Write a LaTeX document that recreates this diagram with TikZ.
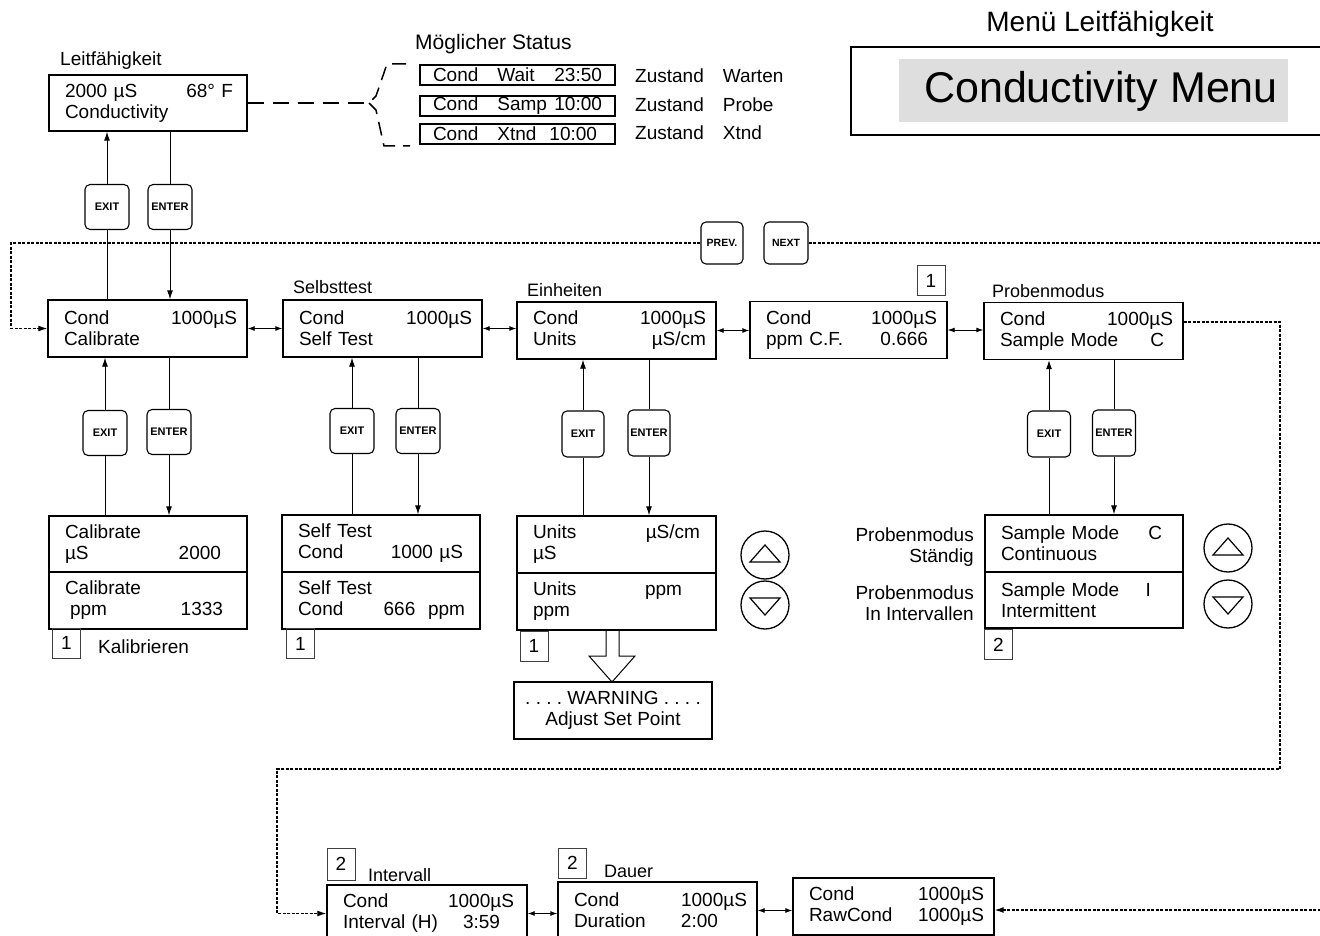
\documentclass[tikz,border=0pt]{standalone}
\usepackage{fontspec}
\setmainfont{Liberation Sans}
\usetikzlibrary{arrows.meta}
\definecolor{menugray}{HTML}{DEDEDE}
\newcommand\lp{\hspace*{6pt}}
\begin{document}
\begin{tikzpicture}[x=1pt,y=-1pt,
  every node/.style={inner sep=0pt, font=\fontsize{19}{21}\selectfont},
  lcd/.style={draw, line width=1.4pt, inner xsep=10pt, inner ysep=0pt, text width=#1, minimum height=57pt},
  stbox/.style={draw, line width=1.2pt, inner xsep=13pt, inner ysep=0pt, text width=169pt, minimum height=20pt},
  btn/.style={draw, line width=1.1pt, rounded corners=5pt, minimum width=44pt, minimum height=45pt, font=\fontsize{11}{13}\selectfont\bfseries},
  numbox/.style={draw=black!75, line width=0.8pt, minimum width=28pt, minimum height=30pt},
  lbl/.style={anchor=base west, font=\fontsize{18}{21}\selectfont},
  updown/.style={circle, draw, line width=1.3pt, minimum size=48pt},
  conn/.style={line width=0.9pt},
  arr/.style={conn, -{Latex[length=9pt,width=6pt]}},
  darr/.style={conn, {Latex[length=7pt,width=5pt]}-{Latex[length=7pt,width=5pt]}},
  dots/.style={line width=1.1pt, dash pattern=on 3pt off 1.5pt},
  dotsarr/.style={dots, -{Latex[length=9pt,width=6pt]}},
  dsh/.style={line width=1.5pt, dash pattern=on 16pt off 9pt}
]
\useasboundingbox (0,0) rectangle (1320,936);
\clip (0,0) rectangle (1320,936);

% ---------- title ----------
\node[anchor=base, font=\fontsize{28}{31}\selectfont] (ttl) at (1100,32) {Menü Leitfähigkeit};
\draw[line width=1.5pt] (851,47) rectangle (1330,135);
\fill[menugray] (899,59) rectangle (1288,122);
\node[font=\fontsize{43}{48}\selectfont] (menu) at (1101,91) {Conductivity Menu};

% ---------- top display ----------
\node[lbl, font=\fontsize{19}{21}\selectfont] (lblL) at (60,66) {Leitfähigkeit};
\node[lcd=178pt, minimum height=56pt] (lead) at (148,103) {\lp 2000 µS\hfill 68° F\kern4pt\\\lp Conductivity};

% status
\node[anchor=base west, font=\fontsize{21}{24}\selectfont] (lblM) at (415,50) {Möglicher Status};
\node[stbox] (st1) at (517.5,75) {Cond\quad Wait\hfill 23:50};
\node[stbox] (st2) at (517.5,106) {Cond\quad Samp\hfill 10:00};
\node[stbox] (st3) at (517.5,134) {Cond\quad Xtnd\hspace{13pt}10:00};
\node[anchor=base west] (z1) at (635,83) {Zustand\quad Warten};
\node[anchor=base west] (z2) at (635,112) {Zustand\quad Probe};
\node[anchor=base west] (z3) at (635,140) {Zustand\quad Xtnd};
\coordinate (brm) at (369,103);
\draw[dsh] (lead.east) -- (brm);
\draw[line width=1.5pt, dash pattern=on 14pt off 8pt] (406,64) -- (387,64) -- (376,96) -- (369,103);
\draw[line width=1.5pt, dash pattern=on 14pt off 8pt] (369,103) -- (376,110) -- (384,146) -- (410,146);

% top buttons
\node[btn] (exitT) at (107,207) {EXIT};
\node[btn] (enterT) at (170,207) {ENTER};

% ---------- main row ----------
\node[lbl] (lblS) at (293,293) {Selbsttest};
\node[lbl] (lblE) at (527,296) {Einheiten};
\node[lbl] (lblP) at (992,297) {Probenmodus};
\node[lcd=179pt] (cal) at (147.5,328.5) {\lp Cond\hfill 1000µS\\\lp Calibrate};
\node[lcd=179pt] (self) at (382.5,328.5) {\lp Cond\hfill 1000µS\\\lp Self Test};
\node[lcd=179pt] (units) at (616.5,330.5) {\lp Cond\hfill 1000µS\\\lp Units\hfill µS/cm};
\node[lcd=177pt] (ppmcf) at (848.5,330) {\lp Cond\hfill 1000µS\\\lp ppm C.F.\hfill 0.666\kern9pt};
\node[lcd=179pt] (samp) at (1083.5,331) {\lp Cond\hfill 1000µS\\\lp Sample Mode\hfill C\kern9pt};
\node[numbox] (n1p) at (931,280.5) {1};

\draw[darr] (cal.east) -- (cal.east -| self.west);
\draw[darr] (self.east) -- (self.east -| units.west);
\draw[darr] (units.east) -- (units.east -| ppmcf.west);
\draw[darr] (ppmcf.east) -- (ppmcf.east -| samp.west);

% top connectors
\draw[arr] (exitT.north) -- (exitT.north |- lead.south);
\draw[conn] (exitT.south) -- (exitT.south |- cal.north);
\draw[conn] (enterT.north |- lead.south) -- (enterT.north);
\draw[arr] (enterT.south) -- (enterT.south |- cal.north);

% PREV / NEXT loop
\node[btn, minimum width=42pt, minimum height=42pt, font=\fontsize{10.5}{12}\selectfont\bfseries] (prev) at (722,243) {PREV.};
\node[btn, minimum width=44pt, minimum height=42pt, font=\fontsize{10.5}{12}\selectfont\bfseries] (next) at (786,243) {NEXT};
\coordinate (lt) at (11,243);
\coordinate (rtop) at (1325,243);
\draw[dotsarr] (prev.west) -- (lt) |- (cal.west);
\draw[dots] (next.east) -- (rtop);

% ---------- Calibrate ----------
\node[btn] (exitC) at (105,433) {EXIT};
\node[btn] (enterC) at (169,432) {ENTER};
\node[lcd=178pt, minimum height=56pt] (calA) at (148,544) {\lp Calibrate\\\lp µS\hfill 2000\kern16pt};
\node[lcd=178pt] (calB) at (148,600.5) {\lp Calibrate\\\hspace*{11pt}ppm\hfill 1333\kern14pt};
\draw[arr] (exitC.north) -- (exitC.north |- cal.south);
\draw[conn] (exitC.south) -- (exitC.south |- calA.north);
\draw[conn] (enterC.north |- cal.south) -- (enterC.north);
\draw[arr] (enterC.south) -- (enterC.south |- calA.north);
\node[numbox] (n1a) at (66.5,643) {1};
\node[anchor=base west] (kal) at (98,653) {Kalibrieren};

% ---------- Self test ----------
\node[btn] (exitS) at (352,431) {EXIT};
\node[btn] (enterS) at (418,431) {ENTER};
\node[lcd=178pt] (selfA) at (381,543.5) {\lp Self Test\\\lp Cond\hfill 1000 µS\kern7pt};
\node[lcd=178pt] (selfB) at (381,600.5) {\lp Self Test\\\lp Cond\hfill 666\ \ ppm\kern5pt};
\draw[arr] (exitS.north) -- (exitS.north |- self.south);
\draw[conn] (exitS.south) -- (exitS.south |- selfA.north);
\draw[conn] (enterS.north |- self.south) -- (enterS.north);
\draw[arr] (enterS.south) -- (enterS.south |- selfA.north);
\node[numbox] (n1b) at (300.5,643.5) {1};

% ---------- Units ----------
\node[btn, minimum width=42pt, minimum height=46pt] (exitU) at (583,434) {EXIT};
\node[btn, minimum width=42pt, minimum height=46pt] (enterU) at (649,433) {ENTER};
\node[lcd=179pt] (unitsA) at (616.5,544.5) {\lp Units\hfill µS/cm\kern6pt\\\lp µS};
\node[lcd=179pt] (unitsB) at (616.5,601.5) {\lp Units\hfill ppm\kern24pt\\\lp ppm};
\draw[arr] (exitU.north) -- (exitU.north |- units.south);
\draw[conn] (exitU.south) -- (exitU.south |- unitsA.north);
\draw[conn] (enterU.north |- units.south) -- (enterU.north);
\draw[arr] (enterU.south) -- (enterU.south |- unitsA.north);
\node[numbox] (n1c) at (534,646) {1};
\node[updown] (upU) at (765,555) {};
\node[updown] (dnU) at (765,605) {};
\draw[line width=1.2pt] (750,562) -- (780,562) -- (765,545) -- cycle;
\draw[line width=1.2pt] (750,598) -- (780,598) -- (765,615) -- cycle;

% warning
\node[draw, line width=1.3pt, minimum width=198pt, minimum height=57pt, align=center] (warn) at (613,710.5) {.\ .\ .\ .\ WARNING\ .\ .\ .\ .\\Adjust Set Point};
\draw[line width=1pt] (606,630) -- (606,656) -- (589,656) -- (612,682) -- (635,656) -- (619,656) -- (619,630);

% ---------- Sample mode ----------
\node[btn, minimum width=43pt, minimum height=46pt] (exitP) at (1049,434) {EXIT};
\node[btn, minimum width=43pt, minimum height=46pt] (enterP) at (1114,433) {ENTER};
\node[lcd=178pt] (sampA) at (1084,543.5) {\lp Sample Mode\hfill C\kern11pt\\\lp Continuous};
\node[lcd=178pt, minimum height=56pt] (sampB) at (1084,600) {\lp Sample Mode\hfill I\kern22pt\\\lp Intermittent};
\draw[arr] (exitP.north) -- (exitP.north |- samp.south);
\draw[conn] (exitP.south) -- (exitP.south |- sampA.north);
\draw[conn] (enterP.north |- samp.south) -- (enterP.north);
\draw[arr] (enterP.south) -- (enterP.south |- sampA.north);
\node[numbox] (n2s) at (998.5,644.5) {2};
\node[align=right, anchor=east] (pm1) at (974,547) {Probenmodus\\Ständig};
\node[align=right, anchor=east] (pm2) at (974,603) {Probenmodus\\In Intervallen};
\node[updown] (upP) at (1228,548) {};
\node[updown] (dnP) at (1228,604) {};
\draw[line width=1.2pt] (1213,555) -- (1243,555) -- (1228,538) -- cycle;
\draw[line width=1.2pt] (1213,597) -- (1243,597) -- (1228,614) -- cycle;

% ---------- bottom row ----------
\node[lcd=180pt] (int) at (427,913.5) {\lp Cond\hfill 1000µS\kern3pt\\\lp Interval (H)\hfill 3:59\kern17pt};
\node[lcd=179pt] (dur) at (657.5,910.5) {\lp Cond\hfill 1000µS\\\lp Duration\hfill 2:00\kern29pt};
\node[lcd=181pt] (raw) at (893.5,906.5) {\lp Cond\hfill 1000µS\\\lp RawCond\hfill 1000µS};
\node[numbox, minimum height=32pt] (n2i) at (341,864) {2};
\node[numbox] (n2d) at (572.5,863) {2};
\node[lbl] (lblI) at (368,881) {Intervall};
\node[lbl] (lblD) at (604,877) {Dauer};
\draw[darr] (int.east) -- (int.east -| dur.west);
\draw[darr] (dur.east) -- (dur.east -| raw.west);

% loop from sample mode down to bottom row
\coordinate (rc1) at (1280,322);
\coordinate (rc2) at (1280,769);
\coordinate (lc1) at (277,769);
\draw[dotsarr] ([yshift=9pt]samp.east) -- (rc1) -- (rc2) -- (lc1) |- (int.west);
\coordinate (rbot) at (1325,910);
\draw[dotsarr] (rbot) -- (rbot -| raw.east);
\end{tikzpicture}
\end{document}
